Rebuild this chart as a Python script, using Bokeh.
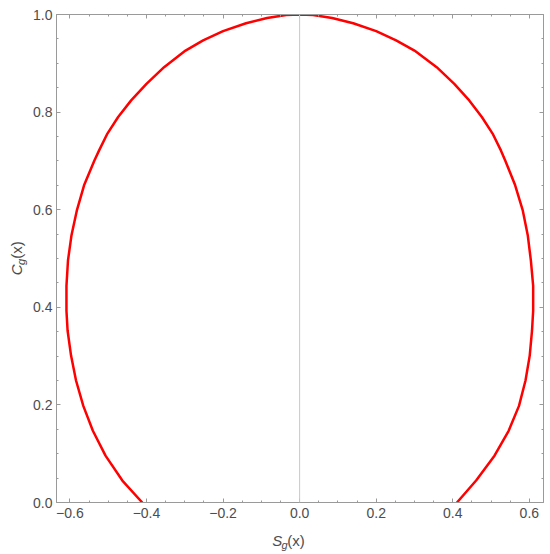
import math
from bokeh.plotting import figure
from bokeh.models import FixedTicker, LinearAxis, Span, Range1d
from bokeh.layouts import row, column
from bokeh.core.properties import value
from bokeh.embed import file_html
from bokeh.resources import INLINE

# Curve: left branch (bottom -> top), right branch (top -> bottom)
left_y = [0.0, 0.045, 0.096, 0.147, 0.198, 0.250, 0.301, 0.352, 0.393, 0.444,
          0.496, 0.547, 0.598, 0.650, 0.701, 0.721, 0.756, 0.790, 0.824, 0.858,
          0.892, 0.926, 0.947, 0.966, 0.982, 0.993, 0.999, 1.0]
left_x = [-0.411, -0.463, -0.507, -0.540, -0.565, -0.584, -0.597, -0.606, -0.609, -0.609,
          -0.605, -0.596, -0.582, -0.563, -0.536, -0.524, -0.502, -0.474, -0.440, -0.400,
          -0.354, -0.298, -0.252, -0.200, -0.140, -0.085, -0.035, 0.0]
right_y = [0.999, 0.993, 0.982, 0.966, 0.947, 0.926, 0.892, 0.858, 0.824, 0.790,
           0.756, 0.721, 0.701, 0.650, 0.598, 0.547, 0.496, 0.444, 0.393, 0.352,
           0.301, 0.250, 0.198, 0.147, 0.096, 0.045, 0.0]
right_x = [0.035, 0.085, 0.140, 0.200, 0.252, 0.300, 0.358, 0.404, 0.443, 0.476,
           0.504, 0.526, 0.537, 0.563, 0.583, 0.596, 0.604, 0.610, 0.610, 0.607,
           0.601, 0.590, 0.573, 0.546, 0.509, 0.461, 0.411]

x_ticks = [-0.6, -0.4, -0.2, 0.0, 0.2, 0.4, 0.6]
x_tick_labels = ["\u22120.6", "\u22120.4", "\u22120.2", "0.0", "0.2", "0.4", "0.6"]
x_minor = [-0.55, -0.5, -0.45, -0.35, -0.3, -0.25, -0.15, -0.1, -0.05,
           0.05, 0.1, 0.15, 0.25, 0.3, 0.35, 0.45, 0.5, 0.55]
y_ticks = [0.0, 0.2, 0.4, 0.6, 0.8, 1.0]
y_tick_labels = ["0.0", "0.2", "0.4", "0.6", "0.8", "1.0"]
y_minor = [0.05, 0.1, 0.15, 0.25, 0.3, 0.35, 0.45, 0.5, 0.55,
           0.65, 0.7, 0.75, 0.85, 0.9, 0.95]

x_label_parts = ["S", "g", "(x)"]
y_label_parts = ["C", "g", "(x)"]

x_lo, x_hi = -0.635, 0.637
y_lo, y_hi = 0.0, 1.0

curve_x = left_x + right_x
curve_y = left_y + right_y

AX = "#9a9a9a"
LBL = "#4d4d4d"
FONT = "Liberation Sans"

p = figure(width=514, height=528, output_backend="svg", toolbar_location=None,
           x_range=Range1d(x_lo, x_hi), y_range=Range1d(y_lo, y_hi),
           min_border_left=26, min_border_right=1, min_border_top=14, min_border_bottom=26,
           x_axis_location=None, y_axis_location=None)
p.background_fill_color = "white"
p.border_fill_color = "white"
p.outline_line_color = AX
p.outline_line_width = 1
p.xgrid.visible = False
p.ygrid.visible = False


def style(ax, show_labels, overrides, standoff):
    ax.axis_line_color = AX
    ax.major_tick_line_color = AX
    ax.minor_tick_line_color = AX
    ax.major_tick_in = 4
    ax.major_tick_out = 0
    ax.minor_tick_in = 2
    ax.minor_tick_out = 0
    ax.axis_label = None
    if show_labels:
        ax.major_label_text_font = FONT
        ax.major_label_text_font_size = "14px"
        ax.major_label_text_color = LBL
        ax.major_label_standoff = standoff
        ax.major_label_overrides = overrides
    else:
        ax.major_label_text_font_size = "1px"
        ax.major_label_standoff = 0
        ax.major_label_overrides = {t: "" for t in overrides}


xo = {t: l for t, l in zip(x_ticks, x_tick_labels)}
yo = {t: l for t, l in zip(y_ticks, y_tick_labels)}

bx = LinearAxis(ticker=FixedTicker(ticks=x_ticks, minor_ticks=x_minor))
style(bx, True, xo, 5)
p.add_layout(bx, "below")
tx = LinearAxis(ticker=FixedTicker(ticks=x_ticks, minor_ticks=x_minor))
style(tx, False, xo, 0)
p.add_layout(tx, "above")
ly = LinearAxis(ticker=FixedTicker(ticks=y_ticks, minor_ticks=y_minor))
style(ly, True, yo, 4)
p.add_layout(ly, "left")
ry = LinearAxis(ticker=FixedTicker(ticks=y_ticks, minor_ticks=y_minor))
style(ry, False, yo, 0)
p.add_layout(ry, "right")

p.add_layout(Span(location=0, dimension="height", line_color="#c8c8c8", line_width=1))

p.line(curve_x, curve_y, line_color="#ff0000", line_width=2.5, line_join="round", line_cap="round")


def label_fig(w, h):
    f = figure(width=w, height=h, output_backend="svg", toolbar_location=None,
               x_range=Range1d(0, w), y_range=Range1d(0, h), min_border=0,
               x_axis_location=None, y_axis_location=None)
    f.xgrid.visible = False
    f.ygrid.visible = False
    f.outline_line_color = None
    f.background_fill_color = "white"
    f.border_fill_color = "white"
    return f


common = dict(text_font=value(FONT), text_color=LBL, text_baseline="middle", text_align="left")

# x axis label S_g(x), in a strip below the plot (pixel coordinates)
xl = label_fig(514, 24)
xl.text(x=[227.7], y=[12], text=[x_label_parts[0]], text_font_size="15px",
        text_font_style="italic", **common)
xl.text(x=[237.4], y=[8], text=[x_label_parts[1]], text_font_size="11px",
        text_font_style="italic", **common)
xl.text(x=[243.6], y=[12], text=[x_label_parts[2]], text_font_size="15px", **common)

# y axis label C_g(x), rotated, in a strip left of the plot (pixel coordinates)
yl = label_fig(30, 552)
yl.text(x=[16], y=[277.2], text=[y_label_parts[0]], angle=math.pi / 2,
        text_font_size="15px", text_font_style="italic", **common)
yl.text(x=[20], y=[287.6], text=[y_label_parts[1]], angle=math.pi / 2,
        text_font_size="11px", text_font_style="italic", **common)
yl.text(x=[16], y=[293.8], text=[y_label_parts[2]], angle=math.pi / 2,
        text_font_size="15px", **common)

layout = row(yl, column(p, xl))

open("out.html", "w").write(file_html(layout, INLINE))
